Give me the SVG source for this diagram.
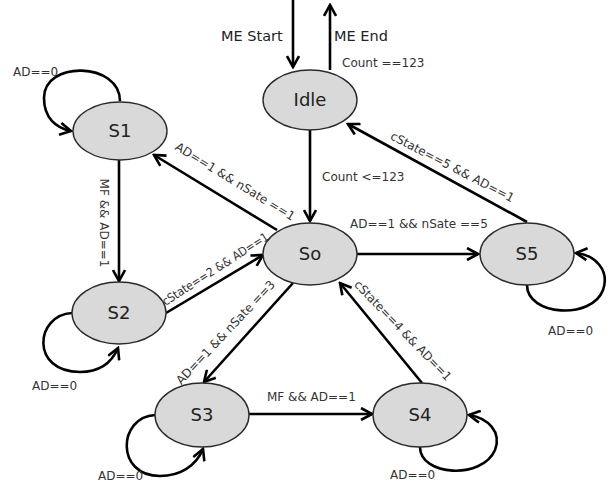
<svg xmlns="http://www.w3.org/2000/svg" width="610" height="484" viewBox="0 0 610 484">
<style>
.node ellipse{fill:#d9d9d9;stroke:#2a2a2a;stroke-width:1.4}
.node text{font-family:"DejaVu Sans",sans-serif;font-size:18px;fill:#222;text-anchor:middle}
.edge{fill:none;stroke:#000;stroke-width:2.6;marker-end:url(#arr)}
.lbl{font-family:"DejaVu Sans",sans-serif;font-size:12px;fill:#333}
.big{font-family:"DejaVu Sans",sans-serif;font-size:14.5px;fill:#222}
</style>
<defs>
<marker id="arr" viewBox="0 0 14 14" markerUnits="userSpaceOnUse" markerWidth="14" markerHeight="14" refX="12" refY="7" orient="auto">
<path d="M1,1 L12,7 L1,13" fill="none" stroke="#000" stroke-width="2.6"/>
</marker>
</defs>
<g id="connectors">
<path class="edge" d="M293,0 L293,67"/>
<path class="edge" d="M330,70 L330,5"/>
<path class="edge" d="M310,130 L310,221"/>
<path class="edge" d="M277,230 L154,155"/>
<path class="edge" d="M119,160 L119,281"/>
<path class="edge" d="M166,313 L263,255"/>
<path class="edge" d="M293,283 L204,382"/>
<path class="edge" d="M249,414 L372,414"/>
<path class="edge" d="M422,383 L340,283"/>
<path class="edge" d="M357,254 L478,254"/>
<path class="edge" d="M527,222 L348,124"/>
<path class="edge" d="M120,101 C120,62 44,60 44,98 C44,118 56,128 71,131"/>
<path class="edge" d="M72,313 C35,315 30,372 80,372 C100,372 112,362 118,348"/>
<path class="edge" d="M155,415 C118,417 115,476 160,476 C180,476 196,466 203,449"/>
<path class="edge" d="M420,447 C420,476 482,480 495,450 C502,432 488,418 469,415"/>
<path class="edge" d="M527,285 C527,316 592,320 603,290 C610,270 595,255 576,253"/>
<text class="big" x="221" y="41">ME Start</text>
<text class="big" x="334" y="41">ME End</text>
<text class="lbl" x="342" y="67">Count ==123</text>
<text class="lbl" x="322" y="181">Count &lt;=123</text>
<text class="lbl" x="350" y="228">AD==1 &amp;&amp; nSate ==5</text>
<text class="lbl" x="267" y="401">MF &amp;&amp; AD==1</text>
<text class="lbl" x="13" y="76">AD==0</text>
<text class="lbl" x="32" y="390">AD==0</text>
<text class="lbl" x="98" y="480">AD==0</text>
<text class="lbl" x="390" y="479">AD==0</text>
<text class="lbl" x="548" y="335">AD==0</text>
<text class="lbl" text-anchor="middle" transform="translate(100,223) rotate(90)">MF &amp;&amp; AD==1</text>
<text class="lbl" text-anchor="middle" transform="translate(233,185) rotate(31.5)">AD==1 &amp;&amp; nSate ==1</text>
<text class="lbl" text-anchor="middle" textLength="124" lengthAdjust="spacingAndGlyphs" transform="translate(217.5,272.5) rotate(-32.8)">cState==2 &amp;&amp; AD==1</text>
<text class="lbl" text-anchor="middle" transform="translate(228.5,335.2) rotate(-46.6)">AD==1 &amp;&amp; nSate ==3</text>
<text class="lbl" text-anchor="middle" textLength="134" lengthAdjust="spacingAndGlyphs" transform="translate(400,333.5) rotate(46)">cState==4 &amp;&amp; AD==1</text>
<text class="lbl" text-anchor="middle" transform="translate(450.5,170.6) rotate(27.6)">cState==5 &amp;&amp; AD==1</text>
</g>
<g id="Idle" class="node"><ellipse cx="310" cy="100" rx="47" ry="30"/><text x="310" y="106">Idle</text></g>
<g id="S1" class="node"><ellipse cx="120" cy="131" rx="47" ry="29"/><text x="120" y="137">S1</text></g>
<g id="S2" class="node"><ellipse cx="119" cy="313" rx="47" ry="31"/><text x="119" y="319">S2</text></g>
<g id="So" class="node"><ellipse cx="310" cy="254" rx="47" ry="31"/><text x="310" y="260">So</text></g>
<g id="S3" class="node"><ellipse cx="202" cy="415" rx="47" ry="32"/><text x="202" y="421">S3</text></g>
<g id="S4" class="node"><ellipse cx="420" cy="415" rx="47" ry="32"/><text x="420" y="421">S4</text></g>
<g id="S5" class="node"><ellipse cx="527" cy="254" rx="47" ry="31"/><text x="527" y="260">S5</text></g>
</svg>
